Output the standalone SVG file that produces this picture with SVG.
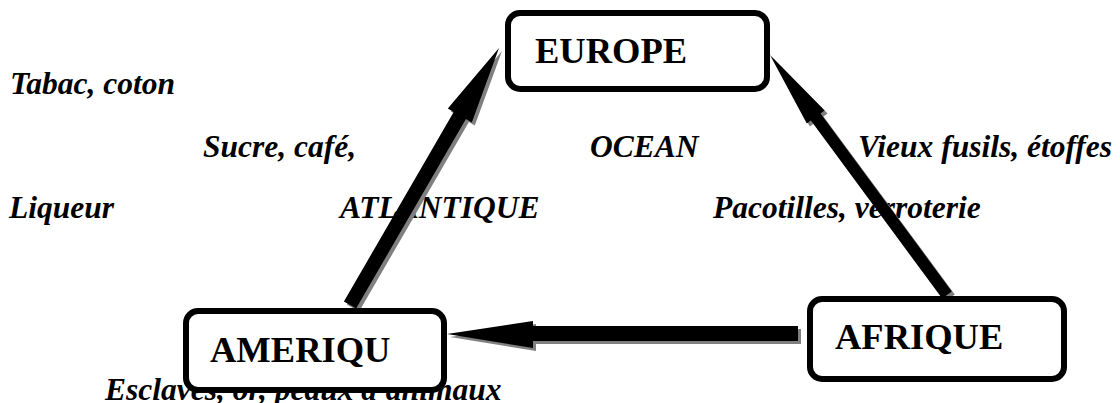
<svg xmlns="http://www.w3.org/2000/svg" width="1120" height="403" viewBox="0 0 1120 403">
<style>
.box{fill:#fff;stroke:#000;stroke-width:6}
.nt{font-family:"Liberation Serif","Times New Roman",serif;font-weight:bold;font-size:36.5px;fill:#000}
.lb{font-family:"Liberation Serif","Times New Roman",serif;font-weight:bold;font-style:italic;font-size:31.5px;fill:#000}
.sh{fill:#808080}
.ar{fill:#000}
</style>
<rect width="1120" height="403" fill="#fff"/>
<g id="labels">
<text class="lb" x="10" y="94">Tabac, coton</text>
<text class="lb" x="203" y="157">Sucre, café,</text>
<text class="lb" x="590" y="157">OCEAN</text>
<text class="lb" x="858" y="157">Vieux fusils, étoffes</text>
<text class="lb" x="9" y="218">Liqueur</text>
<text class="lb" x="340" y="218">ATLANTIQUE</text>
<text class="lb" x="713" y="218">Pacotilles, verroterie</text>
<text class="lb" x="105" y="400">Esclaves, or, peaux d'animaux</text>
</g>
<g id="connectors">
<g transform="translate(3,3)">
<polygon class="sh" points="343.9,301.5 453.7,112 447.8,108.5 499,48 471.8,122.5 465.9,119 356.1,308.5"/>
<polygon class="sh" points="951.8,291.4 820.5,113.4 824.6,110.5 770,55 806.8,123.5 810.9,120.6 942.2,298.6"/>
<polygon class="sh" points="447,334 533,321 533,326 798,326 798,341 533,341 533,348"/>
</g>
<polygon class="ar" points="343.9,301.5 453.7,112 447.8,108.5 499,48 471.8,122.5 465.9,119 356.1,308.5"/>
<polygon class="ar" points="951.8,291.4 820.5,113.4 824.6,110.5 770,55 806.8,123.5 810.9,120.6 942.2,298.6"/>
<polygon class="ar" points="447,334 533,321 533,326 798,326 798,341 533,341 533,348"/>
</g>
<g id="europe">
<rect class="box" x="508" y="13" width="259" height="76" rx="12"/>
<text class="nt" x="535" y="63">EUROPE</text>
</g>
<g id="amerique">
<rect class="box" x="186" y="311" width="258" height="79" rx="12"/>
<text class="nt" x="210" y="362">AMERIQU</text>
</g>
<g id="afrique">
<rect class="box" x="810" y="299" width="254" height="80" rx="12"/>
<text class="nt" x="835" y="349">AFRIQUE</text>
</g>
</svg>
